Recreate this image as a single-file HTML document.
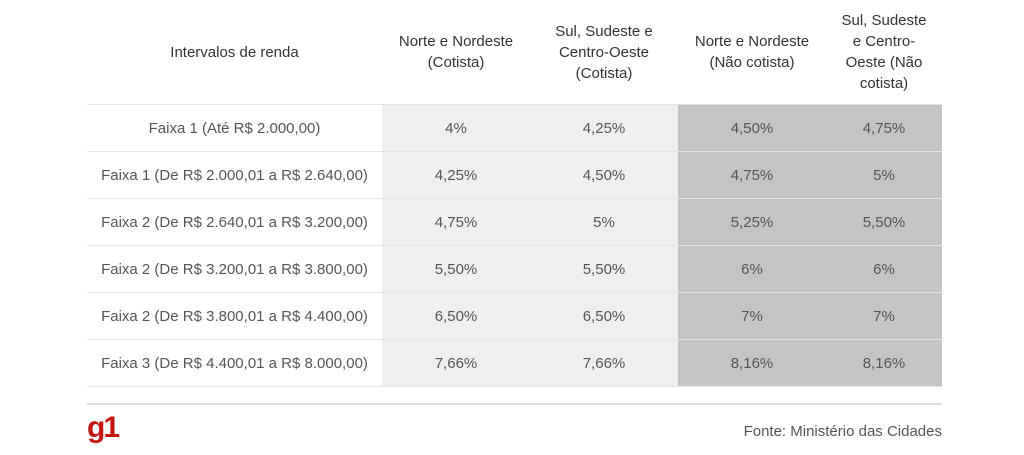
<!DOCTYPE html>
<html><head><meta charset="utf-8"><style>
body{margin:0;width:1024px;height:455px;background:#fff;font-family:"Liberation Sans","DejaVu Sans",sans-serif;position:relative;overflow:hidden}
table{position:absolute;left:87px;top:0;border-collapse:collapse;table-layout:fixed;width:855px}
td,th{text-align:center;font-size:15px;color:#555;font-weight:normal;padding:0}
th{color:#333;height:104px;line-height:21px;vertical-align:middle}
td{height:46px;border-top:1px solid #e4e4e4}
tr:last-child td{border-bottom:1px solid #e4e4e4}
.a{background:#efefef}.b{background:#c4c4c4}
.sep{position:absolute;left:87px;width:855px;top:403px;height:2px;background:#ddd}
.g1{position:absolute;left:87px;top:411px;font-size:30px;font-weight:bold;color:#c4170c;letter-spacing:-2px}
.f{position:absolute;right:82px;top:423px;font-size:15px;color:#555}
</style></head><body>
<table>
<colgroup><col style="width:295px"><col style="width:148px"><col style="width:148px"><col style="width:148px"><col style="width:116px"></colgroup>
<tr><th>Intervalos de renda</th><th>Norte e Nordeste<br>(Cotista)</th><th>Sul, Sudeste e<br>Centro-Oeste<br>(Cotista)</th><th>Norte e Nordeste<br>(Não cotista)</th><th>Sul, Sudeste<br>e Centro-<br>Oeste (Não<br>cotista)</th></tr>
<tr><td>Faixa 1 (Até R$ 2.000,00)</td><td class="a">4%</td><td class="a">4,25%</td><td class="b">4,50%</td><td class="b">4,75%</td></tr>
<tr><td>Faixa 1 (De R$ 2.000,01 a R$ 2.640,00)</td><td class="a">4,25%</td><td class="a">4,50%</td><td class="b">4,75%</td><td class="b">5%</td></tr>
<tr><td>Faixa 2 (De R$ 2.640,01 a R$ 3.200,00)</td><td class="a">4,75%</td><td class="a">5%</td><td class="b">5,25%</td><td class="b">5,50%</td></tr>
<tr><td>Faixa 2 (De R$ 3.200,01 a R$ 3.800,00)</td><td class="a">5,50%</td><td class="a">5,50%</td><td class="b">6%</td><td class="b">6%</td></tr>
<tr><td>Faixa 2 (De R$ 3.800,01 a R$ 4.400,00)</td><td class="a">6,50%</td><td class="a">6,50%</td><td class="b">7%</td><td class="b">7%</td></tr>
<tr><td>Faixa 3 (De R$ 4.400,01 a R$ 8.000,00)</td><td class="a">7,66%</td><td class="a">7,66%</td><td class="b">8,16%</td><td class="b">8,16%</td></tr>
</table>
<div class="sep"></div>
<div class="g1">g1</div>
<div class="f">Fonte: Ministério das Cidades</div>
</body></html>
